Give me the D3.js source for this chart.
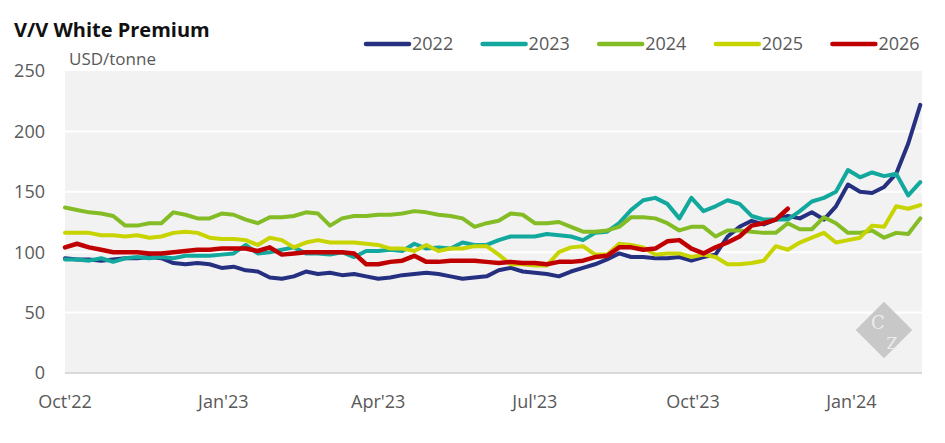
<!DOCTYPE html>
<html>
<head>
<meta charset="utf-8">
<title>V/V White Premium</title>
<style>
  body { margin: 0; background: #fff; }
  text { font-family: 'Open Sans', sans-serif; }
</style>
</head>
<body>
<script src="https://cdn.jsdelivr.net/npm/d3@7"></script>
<script>
// weekly readings, week 0 = 1 Oct of the season
var seasons = ["2022", "2023", "2024", "2025", "2026"];
var colors  = ["#253081", "#13a89e", "#84bc25", "#c8d400", "#c00000"];

var v2022 = [95,94,94,93,94,95,95,96,95,91,90,91,90,87,88,85,84,79,78,80,84,82,83,81,82,80,78,79,81,82,83,82,80,78,79,80,85,87,84,83,82,80,84,87,90,94,99,96,96,95,95,96,93,96,98,113,121,126,123,127,130,128,133,127,138,156,150,149,154,165,190,222];
var v2023 = [94,94,93,95,92,95,96,95,96,95,97,97,97,98,99,106,99,100,102,104,99,99,98,100,96,101,101,102,101,107,103,104,103,108,106,106,110,113,113,113,115,114,113,110,116,117,124,135,143,145,140,128,145,134,138,143,140,130,127,127,127,134,142,145,150,168,162,166,163,165,147,158];
var v2024 = [137,135,133,132,130,122,122,124,124,133,131,128,128,132,131,127,124,129,129,130,133,132,122,128,130,130,131,131,132,134,133,131,130,128,121,124,126,132,131,124,124,125,121,117,117,118,121,129,129,128,124,118,121,121,113,118,118,117,116,116,124,119,119,129,124,116,116,118,112,116,115,128];
var v2025 = [116,116,116,114,114,113,114,112,113,116,117,116,112,111,111,110,106,112,110,104,108,110,108,108,108,107,106,103,103,101,106,101,103,103,105,105,98,90,90,89,89,100,104,105,98,98,107,106,104,98,99,99,96,98,96,90,90,91,93,105,102,108,112,116,108,110,112,122,121,138,136,139];
var v2026 = [104,107,104,102,100,100,100,99,99,100,101,102,102,103,103,103,101,104,98,99,100,100,100,100,99,90,90,92,93,97,92,92,93,93,93,92,91,92,91,91,90,92,92,93,96,97,104,104,102,103,109,110,103,99,104,108,113,122,124,127,136];
var allValues = [v2022, v2023, v2024, v2025, v2026];

var yTicks = [0, 50, 100, 150, 200, 250];
var xTicks = ["2022-10-01", "2023-01-01", "2023-04-01", "2023-07-01", "2023-10-01", "2024-01-01"];
var xLabels = ["Oct'22", "Jan'23", "Apr'23", "Jul'23", "Oct'23", "Jan'24"];

var W = 945, H = 443;
var margin = {top: 71, right: 23, bottom: 70, left: 65},
    width  = W - margin.left - margin.right,
    height = H - margin.top - margin.bottom;

var parse = d3.utcParse("%Y-%m-%d");
var start = parse("2022-10-01");

var svg = d3.select("body").append("svg")
    .attr("width", W)
    .attr("height", H);

var chart = svg.append("g")
    .attr("transform", "translate(" + margin.left + "," + margin.top + ")");

var x = d3.scaleUtc()
    .domain([start, parse("2024-02-11")])
    .range([0, width]);

var y = d3.scaleLinear()
    .domain([0, 250])
    .range([height, 0]);

chart.append("rect")
    .attr("width", width)
    .attr("height", height)
    .attr("fill", "#f2f2f2");

// gridlines
chart.selectAll(".grid")
    .data(yTicks.filter(function(d){ return d > 0 && d < 250; }))
    .enter().append("line")
    .attr("x1", 0).attr("x2", width)
    .attr("y1", function(d){ return y(d); })
    .attr("y2", function(d){ return y(d); })
    .attr("stroke", "#fff")
    .attr("stroke-width", 2);

chart.append("line")
    .attr("x1", 0).attr("x2", width)
    .attr("y1", height).attr("y2", height)
    .attr("stroke", "#d9d9d9")
    .attr("stroke-width", 2);

// watermark
var wm = chart.append("g")
    .attr("transform", "translate(" + (width - 38) + "," + (height - 43) + ")");
wm.append("rect")
    .attr("x", -20).attr("y", -20).attr("width", 40).attr("height", 40)
    .attr("transform", "rotate(45)")
    .attr("fill", "#c8c8c8");
wm.append("text")
    .attr("x", -6).attr("y", -1)
    .attr("text-anchor", "middle")
    .style("font-family", "'DejaVu Serif', serif")
    .style("font-size", "18px")
    .attr("fill", "#ececec")
    .text("C");
wm.append("text")
    .attr("x", 8).attr("y", 19)
    .attr("text-anchor", "middle")
    .style("font-family", "'DejaVu Serif', serif")
    .style("font-size", "16px")
    .attr("fill", "#ececec")
    .text("Z");

// y axis labels
svg.append("g")
    .attr("transform", "translate(" + (margin.left - 20) + "," + margin.top + ")")
    .selectAll("text")
    .data(yTicks)
    .enter().append("text")
    .attr("y", function(d){ return y(d); })
    .attr("dy", "0.35em")
    .attr("text-anchor", "end")
    .attr("fill", "#595959")
    .style("font-size", "18px")
    .text(function(d){ return d; });

// x axis labels
svg.append("g")
    .attr("transform", "translate(" + margin.left + "," + (margin.top + height) + ")")
    .selectAll("text")
    .data(xTicks)
    .enter().append("text")
    .attr("x", function(d){ return x(parse(d)); })
    .attr("y", 35)
    .attr("text-anchor", "middle")
    .attr("fill", "#595959")
    .style("font-size", "18px")
    .text(function(d, i){ return xLabels[i]; });

// lines
var line = d3.line()
    .x(function(d, i){ return x(d3.utcDay.offset(start, i * 7)); })
    .y(function(d){ return y(d); })
    .curve(d3.curveLinear);

chart.selectAll(".series")
    .data(allValues)
    .enter().append("path")
    .attr("class", "series")
    .attr("d", line)
    .attr("fill", "none")
    .attr("stroke", function(d, i){ return colors[i]; })
    .attr("stroke-width", function(d, i){ return i == 4 ? 4.5 : 4; })
    .attr("stroke-linejoin", "round")
    .attr("stroke-linecap", "round");

// title & unit
svg.append("text")
    .attr("x", 14).attr("y", 37)
    .style("font-size", "20px")
    .style("font-weight", "700")
    .attr("fill", "#111")
    .text("V/V White Premium");

svg.append("text")
    .attr("x", 69).attr("y", 65)
    .style("font-size", "17px")
    .attr("fill", "#595959")
    .text("USD/tonne");

// legend
var legend = svg.selectAll(".legend")
    .data(seasons)
    .enter().append("g")
    .attr("class", "legend")
    .attr("transform", function(d, i){ return "translate(" + (366 + i * 116.6) + ",44)"; });

legend.append("line")
    .attr("x1", 0).attr("x2", 43)
    .attr("stroke", function(d, i){ return colors[i]; })
    .attr("stroke-width", 4.5)
    .attr("stroke-linecap", "round");

legend.append("text")
    .attr("x", 46)
    .attr("dy", "0.35em")
    .attr("fill", "#595959")
    .style("font-size", "18px")
    .text(function(d){ return d; });
</script>
</body>
</html>
